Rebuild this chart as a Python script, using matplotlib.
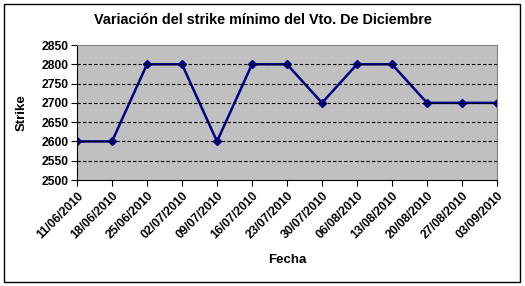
import matplotlib
matplotlib.use("Agg")
import matplotlib.pyplot as plt
from matplotlib.patches import Rectangle

fechas = ["11/06/2010", "18/06/2010", "25/06/2010", "02/07/2010", "09/07/2010",
          "16/07/2010", "23/07/2010", "30/07/2010", "06/08/2010", "13/08/2010",
          "20/08/2010", "27/08/2010", "03/09/2010"]
strike = [2600, 2600, 2800, 2800, 2600, 2800, 2800, 2700, 2800, 2800, 2700, 2700, 2700]
y_ticks = [2500, 2550, 2600, 2650, 2700, 2750, 2800, 2850]

plt.rcParams['font.family'] = ['Liberation Sans', 'DejaVu Sans']
plt.rcParams['font.weight'] = 'bold'

fig = plt.figure(figsize=(5.25, 2.86), dpi=100)
ax = fig.add_axes([77 / 525, 1 - 180 / 286, 420 / 525, 135 / 286])
ax.set_facecolor('#c0c0c0')

x = list(range(len(fechas)))
ax.plot(x, strike, color='#000080', marker='D', markersize=4.5, linewidth=1.8)

ax.set_xlim(0, len(fechas) - 1)
ax.set_ylim(2500, 2850)
ax.set_yticks(y_ticks)
ax.set_xticks(x)
ax.set_xticklabels(fechas, rotation=45, ha='right', rotation_mode='anchor', fontsize=8.7)
ax.tick_params(axis='y', labelsize=8.7, length=4, direction='out', pad=2)
ax.tick_params(axis='x', length=4, direction='out', pad=3)
for t in ax.get_yticklabels() + ax.get_xticklabels():
    t.set_fontweight('bold')

for yv in y_ticks[1:-1]:
    ax.axhline(yv, color='black', linestyle=(0, (3, 2)), linewidth=0.8)

ax.spines['top'].set_color('#808080')
ax.spines['right'].set_color('#808080')
ax.spines['left'].set_color('black')
ax.spines['bottom'].set_color('black')

ax.set_ylabel('Strike', fontsize=9.5, fontweight='bold', labelpad=10)
ax.set_xlabel('Fecha', fontsize=9.5, fontweight='bold', labelpad=9)
fig.text(0.5, 1 - 20 / 286, 'Variación del strike mínimo del Vto. De Diciembre',
         ha='center', va='center', fontsize=10.4, fontweight='bold')

fig.patches.append(Rectangle((4 / 525, 4 / 286), 516 / 525, 278 / 286, transform=fig.transFigure,
                             fill=False, edgecolor='black', linewidth=1))

fig.savefig('out.png', dpi=100)
